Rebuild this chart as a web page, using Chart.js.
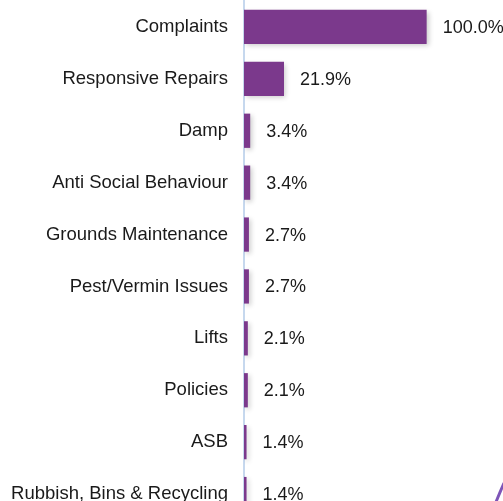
<!DOCTYPE html>
<html>
<head>
<meta charset="utf-8">
<script src="https://cdn.jsdelivr.net/npm/chart.js@4"></script>
<style>
    html, body { margin: 0; padding: 0; background: #fff; overflow: hidden; }
    #wrap { width: 503px; height: 520px; position: relative; }
</style>
</head>
<body>
<div id="wrap"><canvas id="bar-chart"></canvas></div>
<script>
var categorie = ['Complaints', 'Responsive Repairs', 'Damp', 'Anti Social Behaviour', 'Grounds Maintenance',
    'Pest/Vermin Issues', 'Lifts', 'Policies', 'ASB', 'Rubbish, Bins & Recycling'];
var percentuali = [100.0, 21.9, 3.4, 3.4, 2.7, 2.7, 2.1, 2.1, 1.4, 1.4];

// soft shadow under the bars
var ombra = {
    id: 'ombra',
    beforeDatasetsDraw: function (chart) {
        var ctx = chart.ctx;
        ctx.save();
        ctx.shadowColor = 'rgba(0,0,0,0.2)';
        ctx.shadowBlur = 5;
        ctx.shadowOffsetX = 2;
        ctx.shadowOffsetY = 2;
    },
    afterDatasetsDraw: function (chart) {
        chart.ctx.restore();
    }
};

// percentage labels at the end of every bar
var etichette = {
    id: 'etichette',
    afterDatasetsDraw: function (chart) {
        var ctx = chart.ctx;
        var meta = chart.getDatasetMeta(0);
        ctx.save();
        ctx.font = '18px "Liberation Sans", Arial, sans-serif';
        ctx.fillStyle = '#1a1a1a';
        ctx.textAlign = 'left';
        ctx.textBaseline = 'middle';
        meta.data.forEach(function (bar, i) {
            ctx.fillText(percentuali[i].toFixed(1) + '%', bar.x + 16, bar.y + 1);
        });
        // purple stroke in the bottom right corner
        ctx.strokeStyle = '#7e55b8';
        ctx.lineWidth = 3;
        ctx.beginPath();
        ctx.moveTo(504, 483);
        ctx.quadraticCurveTo(500, 492, 496, 502);
        ctx.stroke();
        ctx.restore();
    }
};

var ctx = document.getElementById('bar-chart');
var chart = new Chart(ctx, {
    type: 'bar',
    data: {
        labels: categorie,
        datasets: [{
            data: percentuali,
            backgroundColor: '#7b398c',
            borderWidth: 0,
            barPercentage: 0.66,
            categoryPercentage: 1.0
        }]
    },
    options: {
        indexAxis: 'y',
        responsive: true,
        maintainAspectRatio: false,
        animation: false,
        layout: { padding: { top: 1, bottom: 0 } },
        plugins: {
            legend: { display: false },
            tooltip: { enabled: false }
        },
        scales: {
            x: {
                display: false,
                min: 0,
                max: 141.8
            },
            y: {
                afterFit: function (scale) {
                    scale.width = 244;
                    scale.paddingTop = 0;
                    scale.paddingBottom = 0;
                },
                grid: { display: false, drawTicks: false },
                border: { display: true, color: '#c6d8ee', width: 2 },
                ticks: {
                    padding: 16,
                    color: '#1a1a1a',
                    font: { family: '"Liberation Sans", Arial, sans-serif', size: 18.5 }
                }
            }
        }
    },
    plugins: [ombra, etichette]
});
</script>
</body>
</html>
